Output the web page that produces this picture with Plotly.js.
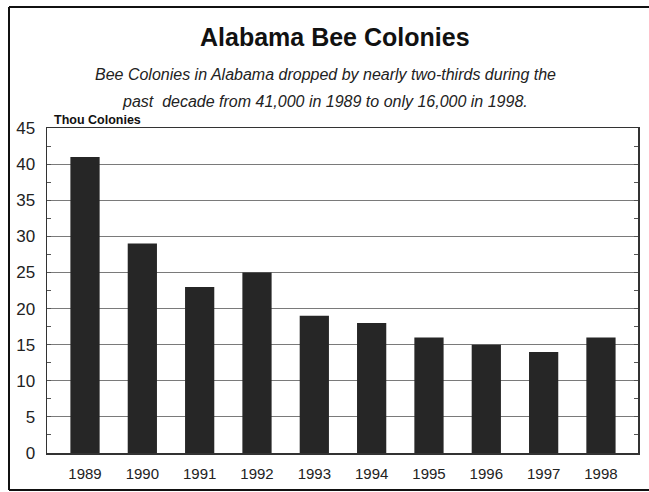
<!DOCTYPE html>
<html>
<head>
<meta charset="utf-8">
<script src="https://cdn.plot.ly/plotly-3.0.1.min.js"></script>
<style>html,body{margin:0;padding:0;background:#fff;}#chart{width:649px;height:492px;}</style>
</head>
<body>
<div id="chart"></div>
<script>
const years = ['1989','1990','1991','1992','1993','1994','1995','1996','1997','1998'];
const colonies = [41, 29, 23, 25, 19, 18, 16, 15, 14, 16];
const yTicks = [0, 5, 10, 15, 20, 25, 30, 35, 40, 45];

const W = 649, H = 492;
const L = 47, R = 11, T = 128, B = 39;
const pw = W - L - R, ph = H - T - B;
const px = x => (x - L) / pw;
const py = y => (H - B - y) / ph;

const font = 'Liberation Sans, Arial, Helvetica, sans-serif';

const trace = {
  type: 'bar',
  x: years,
  y: colonies,
  width: 0.51,
  marker: {color: '#262626', line: {width: 0}},
  hoverinfo: 'x+y'
};

const borderLine = (x0, y0, x1, y1) => ({
  type: 'line', xref: 'paper', yref: 'paper',
  x0: px(x0), y0: py(y0), x1: px(x1), y1: py(y1),
  line: {color: '#111', width: 2}, layer: 'below'
});

const layout = {
  width: W, height: H,
  margin: {l: L, r: R, t: T, b: B, pad: 0},
  paper_bgcolor: '#fff',
  plot_bgcolor: '#fff',
  showlegend: false,
  font: {family: font, color: '#222'},
  xaxis: {
    type: 'category',
    range: [-0.663, 9.646],
    showgrid: false,
    zeroline: false,
    showline: true,
    linecolor: '#333',
    linewidth: 1.5,
    mirror: true,
    ticks: '',
    tickfont: {size: 15, color: '#222', family: font},
    ticklabelstandoff: 6
  },
  yaxis: {
    range: [0, 45],
    tickvals: yTicks,
    ticktext: yTicks.map(String),
    showgrid: true,
    gridcolor: '#7a7a7a',
    gridwidth: 1,
    zeroline: false,
    showline: true,
    linecolor: '#333',
    linewidth: 1.5,
    mirror: 'allticks',
    ticks: 'inside',
    ticklen: 4,
    tickcolor: '#555',
    minor: {dtick: 2.5, tick0: 0, ticks: 'inside', ticklen: 4, tickcolor: '#555', showgrid: false},
    tickfont: {size: 17, color: '#222', family: font},
    ticklabelstandoff: 7
  },
  shapes: [
    borderLine(9, 7, 649, 7),
    borderLine(9, 7, 9, 490),
    borderLine(9, 490, 649, 490)
  ],
  annotations: [
    {text: '<b>Alabama Bee Colonies</b>', xref: 'paper', yref: 'paper',
     x: px(335), y: py(37), xanchor: 'center', yanchor: 'middle', showarrow: false,
     font: {size: 25, color: '#111', family: font}},
    {text: '<i>Bee Colonies in Alabama dropped by nearly two-thirds during the</i>', xref: 'paper', yref: 'paper',
     x: px(325), y: py(75), xanchor: 'center', yanchor: 'middle', showarrow: false,
     font: {size: 16, color: '#222', family: font}},
    {text: '<i>past  decade from 41,000 in 1989 to only 16,000 in 1998.</i>', xref: 'paper', yref: 'paper',
     x: px(325), y: py(102), xanchor: 'center', yanchor: 'middle', showarrow: false,
     font: {size: 16, color: '#222', family: font}},
    {text: '<b>Thou Colonies</b>', xref: 'paper', yref: 'paper',
     x: px(52), y: py(120), xanchor: 'left', yanchor: 'middle', showarrow: false,
     font: {size: 12.5, color: '#111', family: font}}
  ]
};

Plotly.newPlot('chart', [trace], layout, {displayModeBar: false, staticPlot: true});
</script>
</body>
</html>
